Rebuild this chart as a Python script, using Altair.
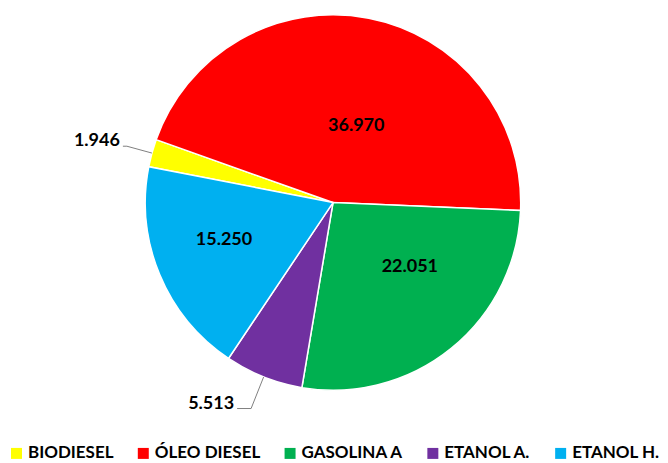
import math
import altair as alt
import pandas as pd

# ---- data ----
categories = ["BIODIESEL", "ÓLEO DIESEL", "GASOLINA A", "ETANOL A.", "ETANOL H."]
values = [1.946, 36.970, 22.051, 5.513, 15.250]
colors = ["#FFFF00", "#FF0000", "#00B050", "#7030A0", "#00B0F0"]
inside = ["ÓLEO DIESEL", "GASOLINA A", "ETANOL H."]
outside = ["BIODIESEL", "ETANOL A."]

# ---- layout / style ----
W, H = 651, 389
R = 188
START_DEG = 281
FONT = "Lato"
total = sum(values)
start = math.radians(START_DEG)

rows = []
cum = 0.0
for i, (c, v) in enumerate(zip(categories, values)):
    mid = cum + v / 2
    cum += v
    rows.append(dict(cat=c, value=v, idx=i, mid=mid, label=f"{v:.3f}"))
df = pd.DataFrame(rows)

# leader lines for outside labels (derived from the slice mid-angles)
elbow_r = {"BIODIESEL": 214, "ETANOL A.": 222}
leader_ext = {"BIODIESEL": 4, "ETANOL A.": 14}
lrows = []
trows = []
for r in rows:
    if r["cat"] not in outside:
        continue
    ang = start + r["mid"] / total * 2 * math.pi
    sx, sy = math.sin(ang), -math.cos(ang)
    p0 = (R * sx, R * sy)
    p1 = (elbow_r[r["cat"]] * sx, elbow_r[r["cat"]] * sy)
    p2 = (p1[0] - leader_ext[r["cat"]], p1[1])
    for k, p in enumerate([p0, p1, p2]):
        lrows.append(dict(cat=r["cat"], seq=k, x=p[0], y=p[1]))
    trows.append(dict(cat=r["cat"], x=p2[0], y=p2[1], label=r["label"]))
ldf = pd.DataFrame(lrows)
tdf = pd.DataFrame(trows)

theta_scale = alt.Scale(domain=[0, total], range=[start, start + 2 * math.pi])
xs = alt.Scale(domain=[-W / 2, W / 2], nice=False, zero=False)
ys = alt.Scale(domain=[-H / 2, H / 2], nice=False, zero=False, reverse=True)

base = alt.Chart(df)

arcs = base.mark_arc(radius=R, stroke="white", strokeWidth=1.5).encode(
    theta=alt.Theta("value:Q", scale=theta_scale, stack=True),
    color=alt.Color(
        "cat:N",
        scale=alt.Scale(domain=categories, range=colors),
        sort=categories,
        legend=alt.Legend(
            title=None,
            orient="none",
            legendX=0,
            legendY=437,
            direction="horizontal",
            symbolType="square",
            symbolSize=121,
            symbolStrokeWidth=0,
            symbolOpacity=1,
            labelFont=FONT,
            labelFontSize=17,
            labelFontWeight="bold",
            labelColor="#000000",
            labelOffset=3,
            columnPadding=21,
            labelLimit=300,
            padding=0,
        ),
    ),
    order=alt.Order("idx:Q"),
)

def inside_label(cat, radius, dx, dy):
    return base.transform_filter(alt.datum.cat == cat).mark_text(
        radius=radius, dx=dx, dy=dy, font=FONT, fontSize=18, fontWeight="bold",
        color="#000000", align="center", baseline="middle"
    ).encode(
        theta=alt.Theta("mid:Q", scale=theta_scale, stack=None),
        text="label:N",
    )

t1 = inside_label("ÓLEO DIESEL", 80, 8, 2)
t2 = inside_label("GASOLINA A", 100, 14, -13)
t3 = inside_label("ETANOL H.", 115, -3, -7)

leaders = alt.Chart(ldf).mark_line(color="#7f7f7f", strokeWidth=1).encode(
    x=alt.X("x:Q", scale=xs, axis=None),
    y=alt.Y("y:Q", scale=ys, axis=None),
    detail="cat:N",
    order="seq:Q",
)

out_text = alt.Chart(tdf).mark_text(
    align="right", baseline="middle", dx=-3, dy=-5, font=FONT, fontSize=18,
    fontWeight="bold", color="#000000"
).encode(
    x=alt.X("x:Q", scale=xs, axis=None),
    y=alt.Y("y:Q", scale=ys, axis=None),
    text="label:N",
)

chart = alt.layer(arcs, t1, t2, t3, leaders, out_text).properties(
    width=W, height=H, padding=0, background="white"
).configure_view(stroke=None)

chart.save("out.html", embed_options={"renderer": "svg", "actions": False})
